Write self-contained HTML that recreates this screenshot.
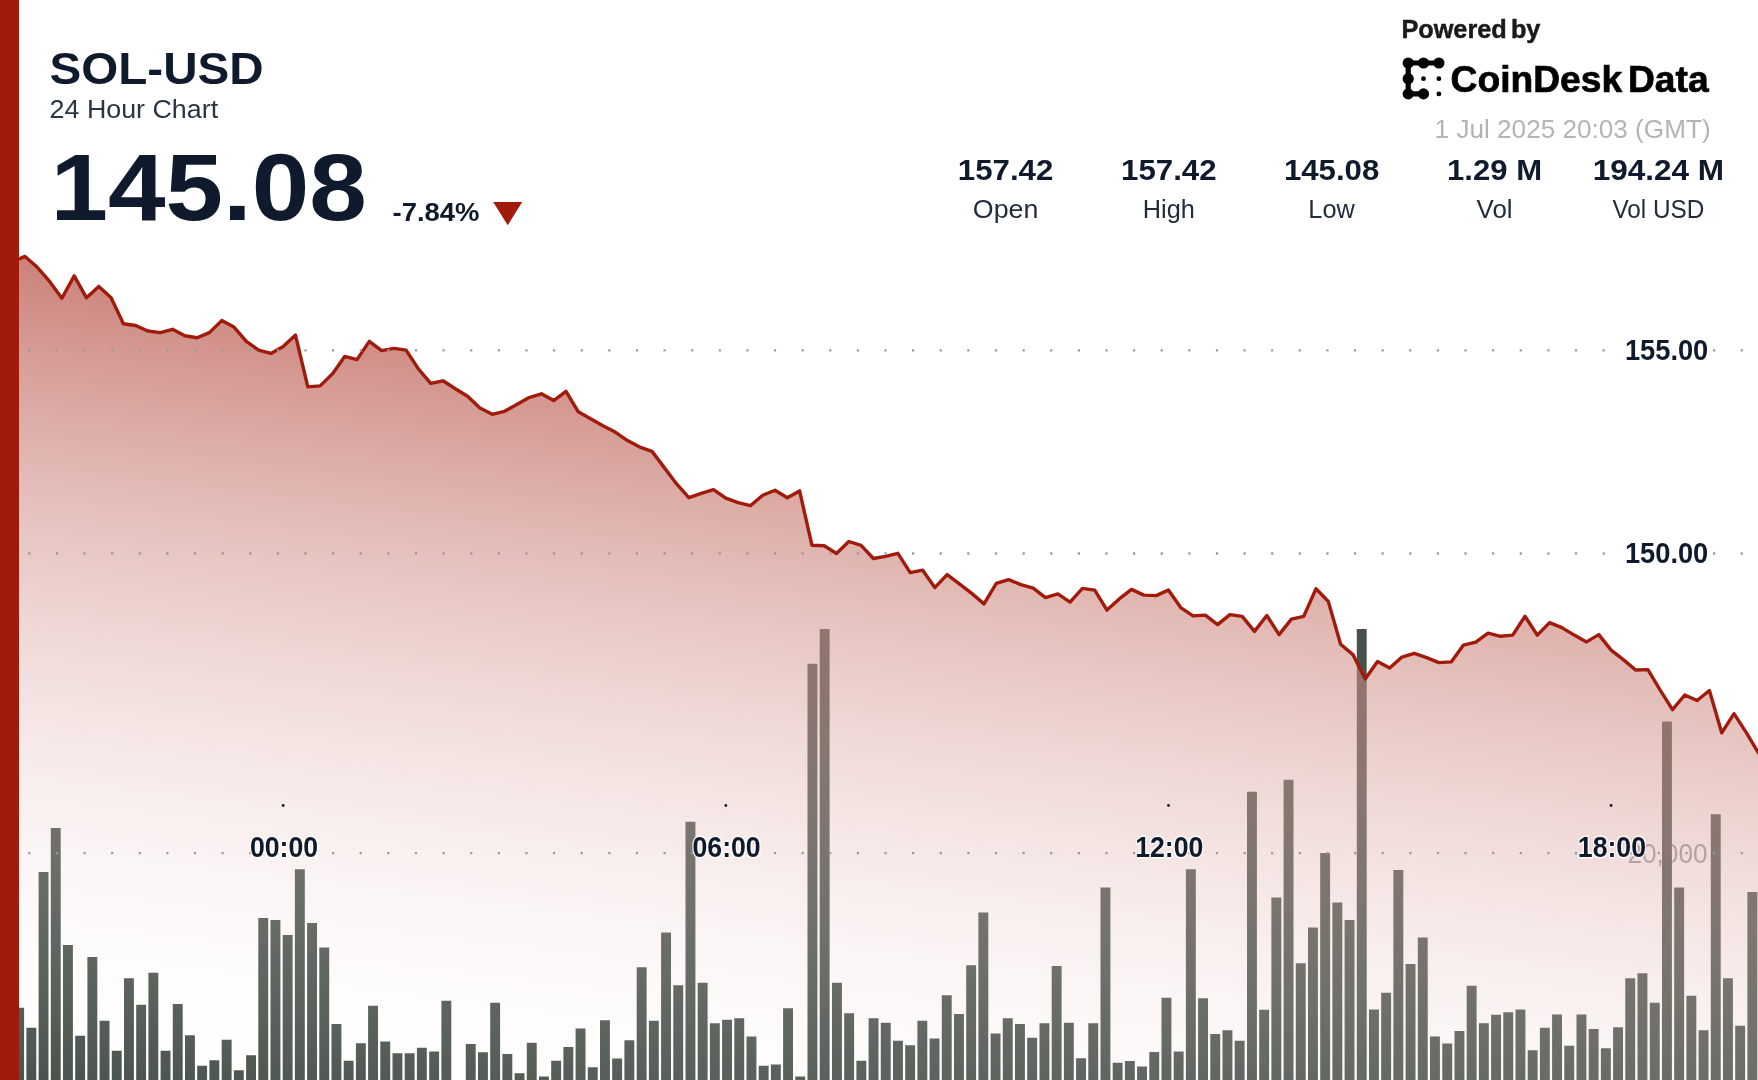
<!DOCTYPE html>
<html lang="en"><head><meta charset="utf-8"><title>SOL-USD 24 Hour Chart</title>
<style>
html,body{margin:0;padding:0;background:#fff;}
body{width:1758px;height:1080px;overflow:hidden;position:relative;font-family:"Liberation Sans",sans-serif;}
svg{display:block;position:absolute;left:0;top:0;font-family:"Liberation Sans",sans-serif;}
</style></head><body>
<svg width="1758" height="1080" viewBox="0 0 1758 1080">
<defs>
<linearGradient id="ag" gradientUnits="userSpaceOnUse" x1="19" y1="257" x2="-83.5" y2="1077.2">
<stop offset="0" stop-color="#bd5f55" stop-opacity="0.786"/>
<stop offset="1" stop-color="#ffffff" stop-opacity="0"/>
</linearGradient>
<filter id="soft" filterUnits="userSpaceOnUse" x="-30" y="-30" width="1820" height="1140" color-interpolation-filters="sRGB"><feGaussianBlur stdDeviation="0.6"/></filter>
</defs>
<rect x="-30" y="-30" width="1820" height="1140" fill="#fff"/>
<g filter="url(#soft)">
<rect x="-30" y="-30" width="1820" height="1140" fill="#fff"/>
<text x="1707.5" y="862.5" font-size="27" font-weight="normal" fill="#9a9a9a" text-anchor="end" textLength="80" lengthAdjust="spacingAndGlyphs">20,000</text><path d="M14.2 1100V1007.7h9.9V1100zM26.4 1100V1027.7h9.9V1100zM38.6 1100V872.1h9.9V1100zM50.8 1100V828h9.9V1100zM63 1100V945.1h9.9V1100zM75.2 1100V1035.7h9.9V1100zM87.4 1100V957.1h9.9V1100zM99.6 1100V1020.7h9.9V1100zM111.8 1100V1050.7h9.9V1100zM124 1100V978.2h9.9V1100zM136.2 1100V1004.7h9.9V1100zM148.4 1100V972.7h9.9V1100zM160.6 1100V1050.7h9.9V1100zM172.8 1100V1003.9h9.9V1100zM185 1100V1035.2h9.9V1100zM197.2 1100V1065.8h9.9V1100zM209.4 1100V1060.3h9.9V1100zM221.7 1100V1039.7h9.9V1100zM233.9 1100V1070.3h9.9V1100zM246.1 1100V1055.2h9.9V1100zM258.3 1100V918.1h9.9V1100zM270.5 1100V920.1h9.9V1100zM282.7 1100V935.1h9.9V1100zM294.9 1100V869.3h9.9V1100zM307.1 1100V923.1h9.9V1100zM319.3 1100V947.6h9.9V1100zM331.5 1100V1024h9.9V1100zM343.7 1100V1060.8h9.9V1100zM355.9 1100V1043.2h9.9V1100zM368.1 1100V1005.7h9.9V1100zM380.3 1100V1041.5h9.9V1100zM392.5 1100V1053.2h9.9V1100zM404.7 1100V1053.2h9.9V1100zM416.9 1100V1047.7h9.9V1100zM429.2 1100V1051.5h9.9V1100zM441.4 1100V1000.7h9.9V1100zM465.8 1100V1044h9.9V1100zM478 1100V1052.2h9.9V1100zM490.2 1100V1002.7h9.9V1100zM502.4 1100V1054h9.9V1100zM514.6 1100V1073.3h9.9V1100zM526.8 1100V1042.7h9.9V1100zM539 1100V1076.5h9.9V1100zM551.2 1100V1060.8h9.9V1100zM563.4 1100V1047h9.9V1100zM575.6 1100V1028.5h9.9V1100zM587.8 1100V1067.3h9.9V1100zM600 1100V1020.2h9.9V1100zM612.2 1100V1058.5h9.9V1100zM624.4 1100V1040.2h9.9V1100zM636.7 1100V967.2h9.9V1100zM648.9 1100V1020.7h9.9V1100zM661.1 1100V932.6h9.9V1100zM673.3 1100V985.2h9.9V1100zM685.5 1100V821.8h9.9V1100zM697.7 1100V982.7h9.9V1100zM709.9 1100V1023.2h9.9V1100zM722.1 1100V1019.7h9.9V1100zM734.3 1100V1018.2h9.9V1100zM746.5 1100V1036.5h9.9V1100zM758.7 1100V1065.8h9.9V1100zM770.9 1100V1064.5h9.9V1100zM783.1 1100V1008.2h9.9V1100zM795.3 1100V1076.5h9.9V1100zM807.5 1100V663.7h9.9V1100zM819.7 1100V628.9h9.9V1100zM832 1100V982.7h9.9V1100zM844.2 1100V1013.2h9.9V1100zM856.4 1100V1060.8h9.9V1100zM868.6 1100V1018.2h9.9V1100zM880.8 1100V1022.7h9.9V1100zM893 1100V1040.7h9.9V1100zM905.2 1100V1045.2h9.9V1100zM917.4 1100V1020.7h9.9V1100zM929.6 1100V1038.5h9.9V1100zM941.8 1100V995.2h9.9V1100zM954 1100V1014h9.9V1100zM966.2 1100V965.2h9.9V1100zM978.4 1100V912.6h9.9V1100zM990.6 1100V1033.5h9.9V1100zM1002.8 1100V1018.2h9.9V1100zM1015 1100V1024h9.9V1100zM1027.2 1100V1037.7h9.9V1100zM1039.5 1100V1023.2h9.9V1100zM1051.7 1100V965.9h9.9V1100zM1063.9 1100V1022.7h9.9V1100zM1076.1 1100V1058.2h9.9V1100zM1088.3 1100V1023.2h9.9V1100zM1100.5 1100V887.6h9.9V1100zM1112.7 1100V1062.8h9.9V1100zM1124.9 1100V1061h9.9V1100zM1137.1 1100V1066.5h9.9V1100zM1149.3 1100V1052h9.9V1100zM1161.5 1100V997.7h9.9V1100zM1173.7 1100V1051.5h9.9V1100zM1185.9 1100V869.3h9.9V1100zM1198.1 1100V998.2h9.9V1100zM1210.3 1100V1034h9.9V1100zM1222.5 1100V1030.2h9.9V1100zM1234.7 1100V1040.7h9.9V1100zM1247 1100V791.8h9.9V1100zM1259.2 1100V1009.7h9.9V1100zM1271.4 1100V897.6h9.9V1100zM1283.6 1100V779.8h9.9V1100zM1295.8 1100V963.2h9.9V1100zM1308 1100V927.6h9.9V1100zM1320.2 1100V853h9.9V1100zM1332.4 1100V902.6h9.9V1100zM1344.6 1100V920.1h9.9V1100zM1356.8 1100V629.1h9.9V1100zM1369 1100V1009.4h9.9V1100zM1381.2 1100V992.7h9.9V1100zM1393.4 1100V870.1h9.9V1100zM1405.6 1100V963.9h9.9V1100zM1417.8 1100V937.6h9.9V1100zM1430 1100V1036.5h9.9V1100zM1442.3 1100V1043.5h9.9V1100zM1454.5 1100V1031h9.9V1100zM1466.7 1100V985.7h9.9V1100zM1478.9 1100V1023.2h9.9V1100zM1491.1 1100V1014.7h9.9V1100zM1503.3 1100V1012.2h9.9V1100zM1515.5 1100V1009.4h9.9V1100zM1527.7 1100V1050.2h9.9V1100zM1539.9 1100V1027.7h9.9V1100zM1552.1 1100V1014.5h9.9V1100zM1564.3 1100V1045.7h9.9V1100zM1576.5 1100V1014.5h9.9V1100zM1588.7 1100V1029h9.9V1100zM1600.9 1100V1048.2h9.9V1100zM1613.1 1100V1027.2h9.9V1100zM1625.3 1100V978.2h9.9V1100zM1637.5 1100V973.2h9.9V1100zM1649.8 1100V1002.7h9.9V1100zM1662 1100V721.4h9.9V1100zM1674.2 1100V887.6h9.9V1100zM1686.4 1100V995.7h9.9V1100zM1698.6 1100V1030.2h9.9V1100zM1710.8 1100V814.3h9.9V1100zM1723 1100V978.2h9.9V1100zM1735.2 1100V1025.7h9.9V1100zM1747.4 1100V892.1h9.9V1100z" fill="#47524a"/>
<path d="M18.7 259.1 L25 256.4 L37.3 267.3 L49.6 281.4 L61.9 298.2 L74.2 275.9 L86.5 297.8 L98.8 286.4 L111.1 297.8 L123.4 323.7 L135.7 325.5 L147.9 331 L160.2 332.6 L172.5 329.3 L184.8 335.8 L197.1 337.8 L209.4 332.6 L221.7 320.6 L234 327.1 L246.3 341.4 L258.6 350.1 L270.9 353.4 L283.2 346.4 L295.5 335.1 L307.8 386.9 L320.1 385.9 L332.4 373.9 L344.7 356.4 L357 359.6 L369.3 341.4 L381.6 350.6 L393.9 348.4 L406.1 350.1 L418.4 368.9 L430.7 383.4 L443 380.8 L455.3 388.8 L467.6 396.3 L479.9 408.1 L492.2 414.3 L504.5 411.3 L516.8 404.6 L529.1 397.6 L541.4 393.8 L553.7 400.6 L566 391.3 L578.3 411.8 L590.6 418.8 L602.9 425.8 L615.2 432.1 L627.5 440.6 L639.8 447.1 L652 451.4 L664.3 467.6 L676.6 483.9 L688.9 497.7 L701.2 493.4 L713.5 489.6 L725.8 498.2 L738.1 502.7 L750.4 505.7 L762.7 495.2 L775 490.2 L787.3 497.7 L799.6 490.9 L811.9 545.2 L824.2 545.7 L836.5 553.5 L848.8 541.5 L861.1 545.4 L873.4 558.5 L885.6 556.3 L897.9 553.3 L910.2 572.6 L922.5 570.1 L934.8 587.6 L947.1 574.6 L959.4 583.9 L971.7 593.4 L984 603.9 L996.3 583.4 L1008.6 579.6 L1020.9 584.6 L1033.2 588.1 L1045.5 597.6 L1057.8 593.9 L1070.1 602.1 L1082.4 588.4 L1094.7 590.1 L1107 610.1 L1119.3 598.9 L1131.5 589.4 L1143.8 595.1 L1156.1 595.6 L1168.4 590.1 L1180.7 607.6 L1193 615.9 L1205.3 615.1 L1217.6 624.6 L1229.9 614.6 L1242.2 616.4 L1254.5 631.4 L1266.8 615.5 L1279.1 634.6 L1291.4 619.1 L1303.7 616.4 L1316 588.7 L1328.3 601.4 L1340.6 644.2 L1352.9 654.6 L1365.2 678.9 L1377.5 661.4 L1389.7 668.1 L1402 657.1 L1414.3 653.4 L1426.6 657.6 L1438.9 662.6 L1451.2 661.9 L1463.5 645.1 L1475.8 642.1 L1488.1 633.1 L1500.4 636.3 L1512.7 635.1 L1525 616.3 L1537.3 635.1 L1549.6 622.6 L1561.9 627.6 L1574.2 635.1 L1586.5 641.9 L1598.8 634.6 L1611.1 650.1 L1623.3 659.6 L1635.6 670 L1647.9 669.6 L1660.2 690.2 L1672.5 709.6 L1684.8 695 L1697.1 700.5 L1709.4 690.5 L1721.7 732.8 L1734 713.7 L1746.3 732.7 L1758.6 753.2 L1770.9 772.2 L1780 1110 L18.7 1110 Z" fill="url(#ag)"/>
<path d="M18.7 259.1 L25 256.4 L37.3 267.3 L49.6 281.4 L61.9 298.2 L74.2 275.9 L86.5 297.8 L98.8 286.4 L111.1 297.8 L123.4 323.7 L135.7 325.5 L147.9 331 L160.2 332.6 L172.5 329.3 L184.8 335.8 L197.1 337.8 L209.4 332.6 L221.7 320.6 L234 327.1 L246.3 341.4 L258.6 350.1 L270.9 353.4 L283.2 346.4 L295.5 335.1 L307.8 386.9 L320.1 385.9 L332.4 373.9 L344.7 356.4 L357 359.6 L369.3 341.4 L381.6 350.6 L393.9 348.4 L406.1 350.1 L418.4 368.9 L430.7 383.4 L443 380.8 L455.3 388.8 L467.6 396.3 L479.9 408.1 L492.2 414.3 L504.5 411.3 L516.8 404.6 L529.1 397.6 L541.4 393.8 L553.7 400.6 L566 391.3 L578.3 411.8 L590.6 418.8 L602.9 425.8 L615.2 432.1 L627.5 440.6 L639.8 447.1 L652 451.4 L664.3 467.6 L676.6 483.9 L688.9 497.7 L701.2 493.4 L713.5 489.6 L725.8 498.2 L738.1 502.7 L750.4 505.7 L762.7 495.2 L775 490.2 L787.3 497.7 L799.6 490.9 L811.9 545.2 L824.2 545.7 L836.5 553.5 L848.8 541.5 L861.1 545.4 L873.4 558.5 L885.6 556.3 L897.9 553.3 L910.2 572.6 L922.5 570.1 L934.8 587.6 L947.1 574.6 L959.4 583.9 L971.7 593.4 L984 603.9 L996.3 583.4 L1008.6 579.6 L1020.9 584.6 L1033.2 588.1 L1045.5 597.6 L1057.8 593.9 L1070.1 602.1 L1082.4 588.4 L1094.7 590.1 L1107 610.1 L1119.3 598.9 L1131.5 589.4 L1143.8 595.1 L1156.1 595.6 L1168.4 590.1 L1180.7 607.6 L1193 615.9 L1205.3 615.1 L1217.6 624.6 L1229.9 614.6 L1242.2 616.4 L1254.5 631.4 L1266.8 615.5 L1279.1 634.6 L1291.4 619.1 L1303.7 616.4 L1316 588.7 L1328.3 601.4 L1340.6 644.2 L1352.9 654.6 L1365.2 678.9 L1377.5 661.4 L1389.7 668.1 L1402 657.1 L1414.3 653.4 L1426.6 657.6 L1438.9 662.6 L1451.2 661.9 L1463.5 645.1 L1475.8 642.1 L1488.1 633.1 L1500.4 636.3 L1512.7 635.1 L1525 616.3 L1537.3 635.1 L1549.6 622.6 L1561.9 627.6 L1574.2 635.1 L1586.5 641.9 L1598.8 634.6 L1611.1 650.1 L1623.3 659.6 L1635.6 670 L1647.9 669.6 L1660.2 690.2 L1672.5 709.6 L1684.8 695 L1697.1 700.5 L1709.4 690.5 L1721.7 732.8 L1734 713.7 L1746.3 732.7 L1758.6 753.2 L1770.9 772.2" fill="none" stroke="#a11b0c" stroke-width="3.4" stroke-linejoin="round"/>
<path d="M28.2 350.3H1780" stroke="#9a9a9a" stroke-width="2.3" stroke-dasharray="2.2 25.42" fill="none"/>
<path d="M28.2 553.5H1780" stroke="#9a9a9a" stroke-width="2.3" stroke-dasharray="2.2 25.42" fill="none"/>
<path d="M28.2 853.2H1780" stroke="#9a9a9a" stroke-width="2.3" stroke-dasharray="2.2 25.42" fill="none"/>
<rect x="1622" y="336.3" width="90" height="28" fill="#fff"/><text x="1708.3" y="359.6" font-size="29" font-weight="bold" fill="#0f1b2c" text-anchor="end" textLength="83.4" lengthAdjust="spacingAndGlyphs">155.00</text>
<rect x="1622" y="539.5" width="90" height="28" fill="#fff"/><text x="1708.3" y="562.8" font-size="29" font-weight="bold" fill="#0f1b2c" text-anchor="end" textLength="83.4" lengthAdjust="spacingAndGlyphs">150.00</text>
<circle cx="283.2" cy="805.5" r="1.4" fill="#0f1b2c"/><text x="284" y="856.9" font-size="29" font-weight="bold" fill="#0f1b2c" text-anchor="middle" textLength="68.2" lengthAdjust="spacingAndGlyphs" stroke="#fff" stroke-width="3" stroke-opacity="0.8" paint-order="stroke" stroke-linejoin="round">00:00</text>
<circle cx="725.8" cy="805.5" r="1.4" fill="#0f1b2c"/><text x="726.6" y="856.9" font-size="29" font-weight="bold" fill="#0f1b2c" text-anchor="middle" textLength="68.2" lengthAdjust="spacingAndGlyphs" stroke="#fff" stroke-width="3" stroke-opacity="0.8" paint-order="stroke" stroke-linejoin="round">06:00</text>
<circle cx="1168.5" cy="805.5" r="1.4" fill="#0f1b2c"/><text x="1169.3" y="856.9" font-size="29" font-weight="bold" fill="#0f1b2c" text-anchor="middle" textLength="68.2" lengthAdjust="spacingAndGlyphs" stroke="#fff" stroke-width="3" stroke-opacity="0.8" paint-order="stroke" stroke-linejoin="round">12:00</text>
<circle cx="1611.1" cy="805.5" r="1.4" fill="#0f1b2c"/><text x="1611.9" y="856.9" font-size="29" font-weight="bold" fill="#0f1b2c" text-anchor="middle" textLength="68.2" lengthAdjust="spacingAndGlyphs" stroke="#fff" stroke-width="3" stroke-opacity="0.8" paint-order="stroke" stroke-linejoin="round">18:00</text>
<rect x="-20" y="-20" width="39" height="1120" fill="#a11b0c"/>
<text x="49.6" y="83.6" font-size="44" font-weight="bold" fill="#0f1b2c" text-anchor="start" textLength="214" lengthAdjust="spacingAndGlyphs">SOL-USD</text>
<text x="49.6" y="117.7" font-size="25" font-weight="normal" fill="#2b3542" text-anchor="start" textLength="168.5" lengthAdjust="spacingAndGlyphs">24 Hour Chart</text>
<text x="50.4" y="220.1" font-size="94.5" font-weight="bold" fill="#0f1b2c" text-anchor="start" textLength="316.5" lengthAdjust="spacingAndGlyphs">145.08</text>
<text x="392.5" y="221.2" font-size="26.5" font-weight="bold" fill="#0f1b2c" text-anchor="start" textLength="87" lengthAdjust="spacingAndGlyphs">-7.84%</text>
<path d="M493.2 202h29l-14.5 23.3z" fill="#a11b0c"/>
<text x="1005.6" y="180.4" font-size="29" font-weight="bold" fill="#0f1b2c" text-anchor="middle" textLength="95.5" lengthAdjust="spacingAndGlyphs">157.42</text><text x="1005.6" y="217.8" font-size="25" font-weight="normal" fill="#222c3a" text-anchor="middle" textLength="65.5" lengthAdjust="spacingAndGlyphs">Open</text>
<text x="1168.8" y="180.4" font-size="29" font-weight="bold" fill="#0f1b2c" text-anchor="middle" textLength="95.5" lengthAdjust="spacingAndGlyphs">157.42</text><text x="1168.8" y="217.8" font-size="25" font-weight="normal" fill="#222c3a" text-anchor="middle" textLength="52" lengthAdjust="spacingAndGlyphs">High</text>
<text x="1331.6" y="180.4" font-size="29" font-weight="bold" fill="#0f1b2c" text-anchor="middle" textLength="95.3" lengthAdjust="spacingAndGlyphs">145.08</text><text x="1331.6" y="217.8" font-size="25" font-weight="normal" fill="#222c3a" text-anchor="middle" textLength="46.5" lengthAdjust="spacingAndGlyphs">Low</text>
<text x="1494.6" y="180.4" font-size="29" font-weight="bold" fill="#0f1b2c" text-anchor="middle" textLength="95" lengthAdjust="spacingAndGlyphs">1.29 M</text><text x="1494.6" y="217.8" font-size="25" font-weight="normal" fill="#222c3a" text-anchor="middle" textLength="36" lengthAdjust="spacingAndGlyphs">Vol</text>
<text x="1658.4" y="180.4" font-size="29" font-weight="bold" fill="#0f1b2c" text-anchor="middle" textLength="131.5" lengthAdjust="spacingAndGlyphs">194.24 M</text><text x="1658.4" y="217.8" font-size="25" font-weight="normal" fill="#222c3a" text-anchor="middle" textLength="92" lengthAdjust="spacingAndGlyphs">Vol USD</text>
<text x="1401.4" y="37.6" font-size="26" font-weight="bold" fill="#1a1a1a" text-anchor="start" textLength="139" lengthAdjust="spacingAndGlyphs" word-spacing="-3" stroke="#1a1a1a" stroke-width="0.5">Powered by</text>
<text x="1450.6" y="92" font-size="37" font-weight="bold" fill="#000" text-anchor="start" textLength="258" lengthAdjust="spacingAndGlyphs" word-spacing="-4.5" stroke="#000" stroke-width="0.7">CoinDesk Data</text>
<text x="1434.6" y="137.6" font-size="25.5" font-weight="normal" fill="#b4b4b4" text-anchor="start" textLength="276" lengthAdjust="spacingAndGlyphs">1 Jul 2025 20:03 (GMT)</text>
<g fill="#000" stroke="#000"><path d="M1438.9 63H1408.2V93.9H1423.5" fill="none" stroke-width="5.2" stroke-linecap="round" stroke-linejoin="round"/><circle cx="1408.2" cy="63" r="5.6" stroke="none"/><circle cx="1423.5" cy="63" r="5.6" stroke="none"/><circle cx="1438.9" cy="63" r="5.6" stroke="none"/><circle cx="1408.2" cy="78.7" r="5.6" stroke="none"/><circle cx="1408.2" cy="93.9" r="5.6" stroke="none"/><circle cx="1423.5" cy="93.9" r="5.6" stroke="none"/><circle cx="1423.5" cy="78.7" r="2.4" stroke="none"/><circle cx="1438.9" cy="78.7" r="2.4" stroke="none"/><circle cx="1438.9" cy="93.9" r="2.4" stroke="none"/></g>
</g>
</svg>
</body></html>
